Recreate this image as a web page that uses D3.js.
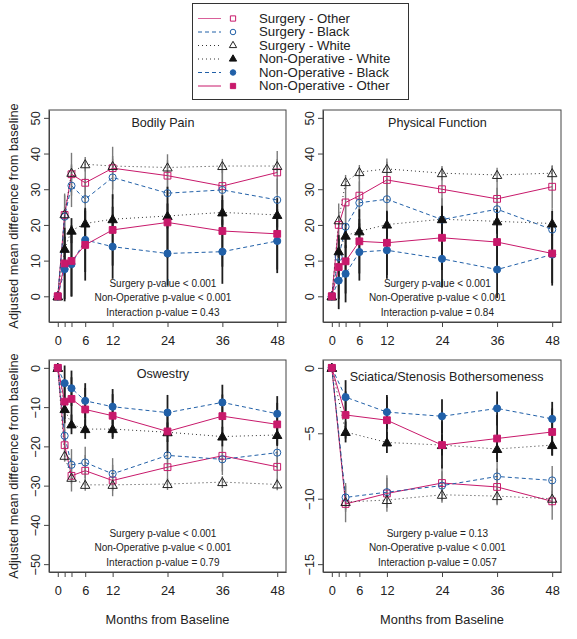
<!DOCTYPE html>
<html><head><meta charset="utf-8">
<script src="https://cdn.jsdelivr.net/npm/d3@7"></script>
<style>
body{margin:0;background:#fff}
svg{display:block}
text{font-family:"Liberation Sans",Arial,Helvetica,sans-serif;fill:#222}
</style>
</head><body>
<svg id="chart" width="577" height="639"></svg>
<script>
// ---------------- DATA ----------------
const seriesNames = ["Surgery - Other","Surgery - Black","Surgery - White","Non-Operative - White","Non-Operative - Black","Non-Operative - Other"];
const months = [0, 1.5, 3, 6, 12, 24, 36, 48];
const monthsSciatica = [0, 3, 12, 24, 36, 48];
const xTickValues = [0, 1.5, 3, 6, 12, 24, 36, 48];
const xTickLabels = ["0", "", "", "6", "12", "24", "36", "48"];

// Bodily Pain
const bpSurgeryOther = [0, 22.8, 34.2, 31.8, 35.9, 33.8, 30.9, 34.7];
const bpSurgeryBlack = [0, 22.3, 31.0, 27.2, 33.3, 28.9, 29.8, 27.0];
const bpSurgeryWhite = [0, 23.0, 34.6, 37.0, 36.5, 36.1, 36.5, 36.5];
const bpNonOpWhite   = [0, 13.3, 18.4, 20.4, 21.6, 22.5, 23.5, 22.8];
const bpNonOpBlack   = [0, 7.6, 9.0, 15.8, 13.9, 12.0, 12.5, 15.5];
const bpNonOpOther   = [0, 9.2, 9.9, 14.4, 18.6, 20.7, 18.3, 17.5];
const bpHalfCI       = [6, 6, 2, 3.5, 9, 10];
const bpYTicks = [0, 10, 20, 30, 40, 50];

// Physical Function
const pfSurgeryOther = [0, 20.0, 26.3, 28.2, 32.6, 30.0, 27.3, 30.7];
const pfSurgeryBlack = [0, 11.0, 19.5, 26.2, 27.2, 21.5, 24.4, 18.7];
const pfSurgeryWhite = [0, 21.3, 32.0, 34.8, 35.7, 34.5, 34.0, 34.5];
const pfNonOpWhite   = [0, 12.6, 17.0, 18.2, 20.1, 21.6, 21.0, 20.4];
const pfNonOpBlack   = [0, 4.4, 6.3, 12.4, 12.9, 10.5, 7.5, 11.7];
const pfNonOpOther   = [0, 8.2, 9.8, 15.4, 15.0, 16.4, 15.2, 12.0];
const pfHalfCI       = [6, 6, 2, 3.5, 8, 9];
const pfYTicks = [0, 10, 20, 30, 40, 50];

// Oswestry
const odiSurgeryOther = [0, -19.7, -27.5, -26.2, -28.7, -25.3, -22.4, -25.2];
const odiSurgeryBlack = [0, -17.3, -24.7, -24.1, -27.0, -22.3, -23.3, -21.6];
const odiSurgeryWhite = [0, -22.4, -28.0, -29.8, -29.8, -29.6, -29.1, -29.7];
const odiNonOpWhite   = [0, -10.5, -14.4, -15.6, -15.6, -16.4, -17.5, -17.1];
const odiNonOpBlack   = [0, -3.9, -5.2, -8.4, -9.9, -11.4, -8.8, -11.7];
const odiNonOpOther   = [0, -8.6, -7.9, -10.6, -12.2, -16.2, -12.3, -14.4];
const odiHalfCI       = [4, 4, 1.5, 2.5, 4.5, 5.5];
const odiYTicks = [0, -10, -20, -30, -40, -50];

// Sciatica/Stenosis Bothersomeness
const sbSurgeryOther = [0, -10.4, -9.6, -8.8, -9.1, -10.2];
const sbSurgeryBlack = [0, -9.9, -9.5, -9.0, -8.3, -8.6];
const sbSurgeryWhite = [0, -10.25, -10.1, -9.7, -9.8, -10.0];
const sbNonOpWhite   = [0, -4.9, -5.7, -5.9, -6.2, -5.9];
const sbNonOpBlack   = [0, -2.24, -3.38, -3.7, -3.1, -3.9];
const sbNonOpOther   = [0, -3.6, -4.0, -5.9, -5.4, -4.9];
const sbHalfCI       = [1.4, 1.1, 0.6, 0.8, 1.3, 1.8];
const sbYTicks = [0, -5, -10, -15];

const pvalBP  = ["Surgery p-value < 0.001", "Non-Operative p-value < 0.001", "Interaction p-value = 0.43"];
const pvalPF  = ["Surgery p-value < 0.001", "Non-Operative p-value < 0.001", "Interaction p-value = 0.84"];
const pvalODI = ["Surgery p-value < 0.001", "Non-Operative p-value < 0.001", "Interaction p-value = 0.79"];
const pvalSB  = ["Surgery p-value = 0.13", "Non-Operative p-value < 0.001", "Interaction p-value = 0.057"];

// ---------------- STYLE ----------------
const PINK = "#C8196B", BLUE = "#2160A8", BLK = "#111111";
const seriesStyle = [
  {color: PINK, dash: null,  sym: d3.symbolSquare,   fill: false},
  {color: BLUE, dash: "4,3", sym: d3.symbolCircle,   fill: false},
  {color: "#333", dash: "1,3", sym: d3.symbolTriangle, fill: false},
  {color: "#333", dash: "1,3", sym: d3.symbolTriangle, fill: true, fillColor: BLK},
  {color: BLUE, dash: "4,3", sym: d3.symbolCircle,   fill: true, fillColor: BLUE},
  {color: PINK, dash: null,  sym: d3.symbolSquare,   fill: true, fillColor: PINK}
];
const symSize = {square: 46, circle: 40, triangle: 38};
function symArea(s){ return s === d3.symbolSquare ? symSize.square : s === d3.symbolCircle ? symSize.circle : symSize.triangle; }

const panels = [
  {title: "Bodily Pain", left: 49, right: 286, top: 110, bottom: 322, yDomain: [-7.2, 52.2], yTicks: bpYTicks,
   xs: months, series: [bpSurgeryOther, bpSurgeryBlack, bpSurgeryWhite, bpNonOpWhite, bpNonOpBlack, bpNonOpOther],
   ci: bpHalfCI, titleX: 23, titleDy: 13, pvals: pvalBP, bottomRow: false},
  {title: "Physical Function", left: 323, right: 561, top: 110, bottom: 322, yDomain: [-7.2, 52.2], yTicks: pfYTicks,
   xs: months, series: [pfSurgeryOther, pfSurgeryBlack, pfSurgeryWhite, pfNonOpWhite, pfNonOpBlack, pfNonOpOther],
   ci: pfHalfCI, titleX: 23, titleDy: 13, pvals: pvalPF, bottomRow: false},
  {title: "Oswestry", left: 49, right: 286, top: 360, bottom: 572, yDomain: [-52, 2], yTicks: odiYTicks,
   xs: months, series: [odiSurgeryOther, odiSurgeryBlack, odiSurgeryWhite, odiNonOpWhite, odiNonOpBlack, odiNonOpOther],
   ci: odiHalfCI, titleX: 23, titleDy: 13.5, pvals: pvalODI, bottomRow: true},
  {title: "Sciatica/Stenosis Bothersomeness", left: 323, right: 561, top: 360, bottom: 572, yDomain: [-15.6, 0.6], yTicks: sbYTicks,
   xs: monthsSciatica, series: [sbSurgeryOther, sbSurgeryBlack, sbSurgeryWhite, sbNonOpWhite, sbNonOpBlack, sbNonOpOther],
   ci: sbHalfCI, titleX: 25, titleDy: 16.5, pvals: pvalSB, bottomRow: true}
];

const svg = d3.select("#chart");
const FS_TICK = 12.8, FS_TITLE = 12.6, FS_P = 10, FS_LEG = 12;

panels.forEach(p => {
  const x = d3.scaleLinear().domain([-1.92, 49.92]).range([p.left, p.right]);
  const y = d3.scaleLinear().domain(p.yDomain).range([p.bottom, p.top]);
  const g = svg.append("g");

  const xa = g.append("g").attr("transform", `translate(0,${p.bottom})`)
    .call(d3.axisBottom(x).tickValues(xTickValues).tickSize(5).tickSizeOuter(0)
      .tickFormat((d, i) => xTickLabels[i]));
  xa.select(".domain").attr("stroke", "#444");
  xa.selectAll(".tick line").attr("stroke", "#444");
  xa.selectAll(".tick text").attr("font-size", FS_TICK).attr("fill", "#222")
    .attr("font-family", "Liberation Sans, Arial, sans-serif").attr("y", 14);

  const ya = g.append("g").attr("transform", `translate(${p.left},0)`)
    .call(d3.axisLeft(y).tickValues(p.yTicks).tickSize(5).tickSizeOuter(0).tickFormat(d3.format("d")));
  ya.select(".domain").attr("stroke", "#444");
  ya.selectAll(".tick line").attr("stroke", "#444");
  ya.selectAll(".tick text").attr("font-size", FS_TICK).attr("fill", "#222")
    .attr("font-family", "Liberation Sans, Arial, sans-serif")
    .attr("text-anchor", "middle").attr("x", null).attr("dy", null)
    .attr("transform", "translate(-9.5,0) rotate(-90)");

  const order = [0, 1, 2, 3, 4, 5];
  order.forEach(si => {
    const vals = p.series[si];
    g.selectAll(null).data(vals.map((v, i) => ({x: p.xs[i], v})).filter(d => d.x > 0))
      .enter().append("line")
      .attr("x1", d => x(d.x)).attr("x2", d => x(d.x))
      .attr("y1", d => y(d.v - p.ci[si])).attr("y2", d => y(d.v + p.ci[si]))
      .attr("stroke", si < 3 ? "#7a7a7a" : "#1e1e1e")
      .attr("stroke-width", si < 3 ? 1.4 : 1.8);
  });

  const line = d3.line().x(d => x(d.x)).y(d => y(d.v));
  order.forEach(si => {
    const st = seriesStyle[si];
    const pts = p.series[si].map((v, i) => ({x: p.xs[i], v}));
    g.append("path").datum(pts).attr("d", line)
      .attr("fill", "none").attr("stroke", st.color).attr("stroke-width", 1)
      .attr("stroke-dasharray", st.dash);
  });

  order.forEach(si => {
    const st = seriesStyle[si];
    const pts = p.series[si].map((v, i) => ({x: p.xs[i], v}));
    g.selectAll(null).data(pts).enter().append("path")
      .attr("d", d3.symbol().type(st.sym).size(symArea(st.sym)))
      .attr("transform", d => `translate(${x(d.x)},${y(d.v) + (st.sym === d3.symbolTriangle ? 0.8 : 0)})`)
      .attr("fill", st.fill ? st.fillColor : "none")
      .attr("stroke", st.fill ? st.fillColor : (si === 2 ? "#222" : st.color))
      .attr("stroke-width", 1);
  });

  g.append("rect").attr("x", p.left).attr("y", p.top)
    .attr("width", p.right - p.left).attr("height", p.bottom - p.top)
    .attr("fill", "none").attr("stroke", "#444").attr("stroke-width", 1);

  g.append("text").attr("x", x(p.titleX)).attr("y", p.top + p.titleDy + FS_TITLE * 0.35)
    .attr("text-anchor", "middle").attr("font-size", FS_TITLE).text(p.title);

  const pOff = [-39, -24.5, -10];
  p.pvals.forEach((t, i) => {
    g.append("text").attr("x", x(23)).attr("y", p.bottom + pOff[i] + FS_P * 0.35)
      .attr("text-anchor", "middle").attr("font-size", FS_P).text(t);
  });

  if (p.bottomRow) {
    g.append("text").attr("x", (p.left + p.right) / 2).attr("y", 620 + 0.35 * FS_TICK)
      .attr("text-anchor", "middle").attr("font-size", FS_TICK).text("Months from Baseline");
  }
  if (p.left < 100) {
    g.append("text").attr("transform", `translate(${14 + 0.35 * FS_TICK},${(p.top + p.bottom) / 2}) rotate(-90)`)
      .attr("text-anchor", "middle").attr("font-size", FS_TICK).text("Adjusted mean difference from baseline");
  }
});

// ---------------- LEGEND ----------------
const leg = svg.append("g");
leg.append("rect").attr("x", 192.5).attr("y", 3.5).attr("width", 216).attr("height", 96)
  .attr("fill", "#fff").attr("stroke", "#333").attr("stroke-width", 1);
seriesNames.forEach((name, i) => {
  const st = seriesStyle[i];
  const cy = 18.5 + i * 13.5;
  leg.append("line").attr("x1", 198).attr("x2", 221).attr("y1", cy).attr("y2", cy)
    .attr("stroke", st.color === PINK && !st.fill ? "#d9609a" : st.color).attr("stroke-width", 1)
    .attr("stroke-dasharray", st.dash);
  leg.append("path").attr("d", d3.symbol().type(st.sym).size(symArea(st.sym) * 0.6))
    .attr("transform", `translate(233,${cy})`)
    .attr("fill", st.fill ? st.fillColor : "none")
    .attr("stroke", st.fill ? st.fillColor : (i === 2 ? "#222" : st.color)).attr("stroke-width", 1);
  const t = leg.append("text").attr("x", 259).attr("y", cy + 0.36 * FS_LEG).attr("font-size", FS_LEG).text(name);
  const len = t.node().getComputedTextLength();
  t.attr("textLength", len * 1.1).attr("lengthAdjust", "spacingAndGlyphs");
});
</script>
</body></html>
